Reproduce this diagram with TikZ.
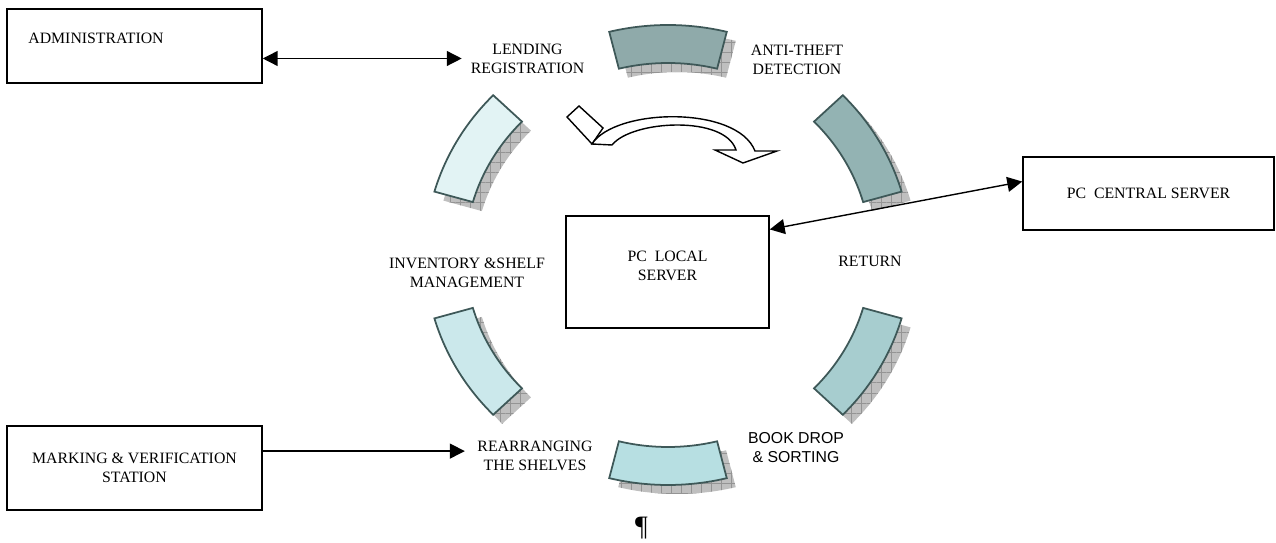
\documentclass[tikz,border=0pt]{standalone}
\usepackage{fontspec}
\setmainfont{Liberation Serif}
\newfontfamily\arialfont{Liberation Sans}
\usetikzlibrary{arrows.meta,calc,patterns.meta}
\definecolor{segTL}{HTML}{E2F3F4}
\definecolor{segT}{HTML}{8FAAAA}
\definecolor{segTR}{HTML}{93B3B3}
\definecolor{segBR}{HTML}{A7CDCF}
\definecolor{segB}{HTML}{B7DFE2}
\definecolor{segBL}{HTML}{CBE8EB}
\definecolor{segborder}{HTML}{3E5858}
\newcommand{\ringseg}[2]{%
  \path[shadowfill, shift={(9,9)}]
    plot[domain=#1-14:#1+14, samples=24] ({668+243*cos(\x)},{255-230*sin(\x)})
    -- plot[domain=#1+14:#1-14, samples=24] ({668+203*cos(\x)},{255-192*sin(\x)}) -- cycle;
  \filldraw[segline, fill=#2]
    plot[domain=#1-14:#1+14, samples=24] ({668+243*cos(\x)},{255-230*sin(\x)})
    -- plot[domain=#1+14:#1-14, samples=24] ({668+203*cos(\x)},{255-192*sin(\x)}) -- cycle;
}
\begin{document}
\begin{tikzpicture}[x=0.02cm,y=-0.02cm,
  box/.style={draw=black, line width=0.9pt, inner sep=0pt, align=center,
    font=\fontsize{9}{10.8}\selectfont},
  lbl/.style={font=\fontsize{9}{10.8}\selectfont, align=center, inner sep=0pt},
  conn/.style={line width=0.8pt, draw=black},
  >={Triangle[length=8.5pt,width=8.5pt]},
  segline/.style={draw=segborder, line width=1pt, line join=miter},
  shadowfill/.style={preaction={fill=black!25},
    pattern={Hatch[distance=5.7pt,angle=0,line width=0.3pt]}, pattern color=black!42},
  bigarrow/.style={fill=white, draw=black, line width=0.8pt, line join=miter}
]
\useasboundingbox (0,0) rectangle (1276,543);

% ring segments
\ringseg{90}{segT}
\ringseg{30}{segTR}
\ringseg{-30}{segBR}
\ringseg{-90}{segB}
\ringseg{210}{segBL}
\ringseg{150}{segTL}

% curved block arrow
\filldraw[bigarrow] (567,117) -- (579,106) -- (603,128) -- (592,144) -- cycle;
\filldraw[bigarrow] (592,144) .. controls (615,108) and (737,105) .. (755,151)
  -- (777,151) -- (743,163) -- (715,150) -- (736,150)
  .. controls (725,115) and (632,120) .. (612,145) -- cycle;

% boxes
\node[box, minimum width=5.1cm, minimum height=1.48cm] (admin) at (134.5,46) {};
\node[lbl, anchor=west] (admintext) at (28,38.5) {ADMINISTRATION};
\node[box, minimum width=5.1cm, minimum height=1.68cm] (mark) at (134.5,468)
  {MARKING \& VERIFICATION\\STATION};
\node[box, minimum width=5.02cm, minimum height=1.46cm] (central) at (1148.5,193.5)
  {PC\ \ CENTRAL SERVER};
\node[box, minimum width=4.06cm, minimum height=2.24cm] (local) at (667.5,272) {};
\node[lbl] (localtext) at (667.5,266) {PC\ \ LOCAL\\SERVER};

% labels
\node[lbl] (lend) at (527.5,58.5) {LENDING\\REGISTRATION};
\node[lbl] (anti) at (797,60) {ANTI-THEFT\\DETECTION};
\node[lbl] (ret) at (870,261) {RETURN};
\node[lbl] (inv) at (467,272.5) {INVENTORY \&SHELF\\MANAGEMENT};
\node[lbl, font=\arialfont\fontsize{9}{10.8}\selectfont] (book) at (796,448) {BOOK DROP\\\& SORTING};
\node[lbl] (rear) at (535,455.5) {REARRANGING\\THE SHELVES};
\node[lbl, font=\fontsize{16}{16}\selectfont, anchor=north] (pil) at (641.5,517) {¶};

% connectors
\coordinate (lendin) at ([xshift=-5pt]lend.west);
\coordinate (rearin) at ([xshift=-7pt,yshift=2.5pt]rear.west);
\draw[conn, <->] (admin.east |- lendin) -- (lendin);
\draw[conn, ->] (mark.east |- rearin) -- (rearin);
\draw[conn, <->] ($(local.north east)!0.125!(local.south east)$)
  -- ($(central.north west)!0.34!(central.south west)$);
\end{tikzpicture}
\end{document}
